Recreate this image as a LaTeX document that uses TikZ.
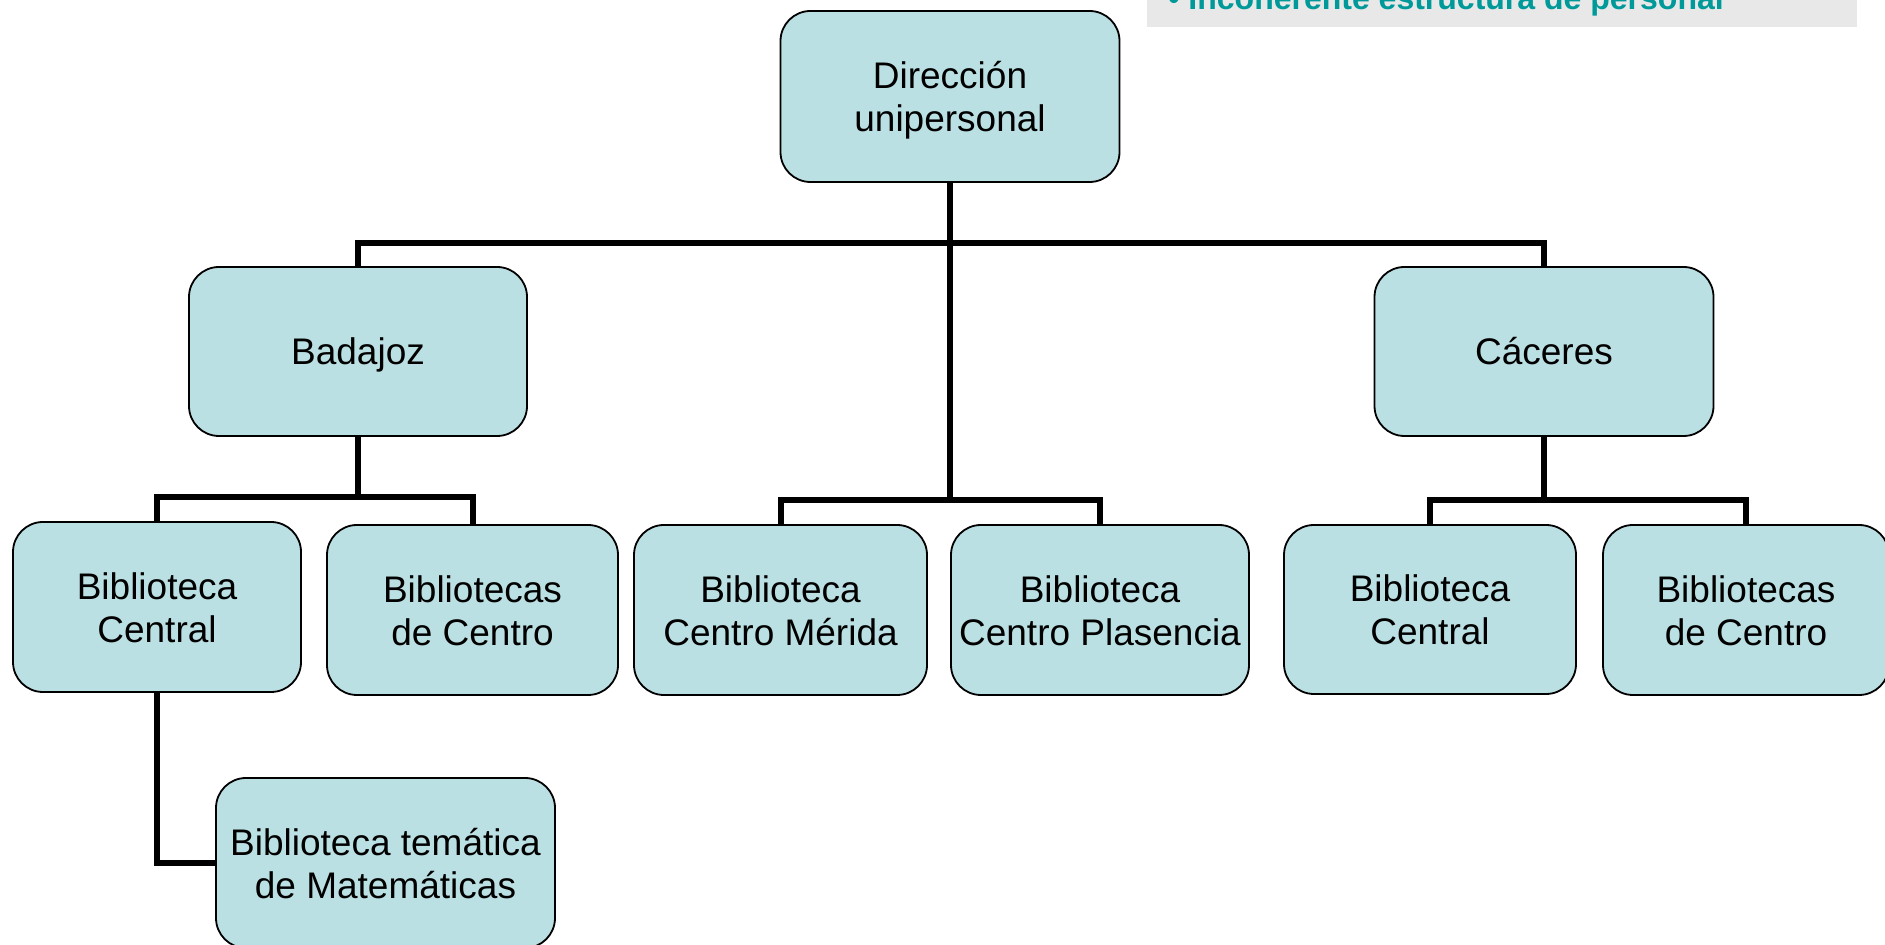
\documentclass[tikz,border=0pt]{standalone}
\usepackage{fontspec}
\setmainfont{Liberation Sans}
\definecolor{boxfill}{RGB}{187,224,227}
\definecolor{headgrey}{RGB}{232,232,232}
\definecolor{headteal}{RGB}{0,153,153}
\begin{document}
\begin{tikzpicture}[x=0.5pt,y=-0.5pt,
  orgbox/.style={draw=black, line width=0.9pt, fill=boxfill, rounded corners=15pt,
    align=center, inner sep=0pt, text height=35.5pt, text depth=0pt,
    font=\fontsize{18.5pt}{21.5pt}\selectfont},
  oneline/.style={text height=13.5pt},
  conn/.style={draw=black, line width=3pt, line join=miter}]
\useasboundingbox (0,0) rectangle (1885,945);
% header
\fill[headgrey] (1147,0) rectangle (1857,27);
\node[anchor=base west, inner sep=0pt, text=headteal, font=\fontsize{16pt}{18pt}\selectfont\bfseries] (head) at (1168,10) {• Incoherente estructura de personal};
% coordinates for buses
\coordinate (busA) at (950,243);
\coordinate (busB) at (950,500);
\coordinate (busC) at (358,497);
\coordinate (busD) at (1544,500);
% boxes
\path
 (950,96.5) node[orgbox, minimum width=169.5pt, minimum height=85.5pt] (dir) {Dirección\\unipersonal}
 (358,351.5) node[orgbox, oneline, minimum width=169pt, minimum height=84.5pt] (bad) {Badajoz}
 (1544,351.5) node[orgbox, oneline, minimum width=169.5pt, minimum height=84.5pt] (cac) {Cáceres}
 (157,607) node[orgbox, minimum width=144pt, minimum height=85pt] (bc1) {Biblioteca\\Central}
 (472.5,610) node[orgbox, minimum width=145.5pt, minimum height=85pt] (bcen1) {Bibliotecas\\de Centro}
 (780.5,610) node[orgbox, minimum width=146.5pt, minimum height=85pt] (mer) {Biblioteca\\Centro Mérida}
 (1100,610) node[orgbox, minimum width=149pt, minimum height=85pt] (pla) {Biblioteca\\Centro Plasencia}
 (1430,609.5) node[orgbox, minimum width=146pt, minimum height=84.5pt] (bc2) {Biblioteca\\Central}
 (1746,610) node[orgbox, minimum width=143pt, minimum height=85pt] (bcen2) {Bibliotecas\\de Centro}
 (385.5,863) node[orgbox, minimum width=169.5pt, minimum height=85pt] (tem) {Biblioteca temática\\de Matemáticas};
% connectors
\draw[conn] (dir.south) -- (busA);
\draw[conn] (bad.north) |- (busA) -| (cac.north);
\draw[conn] (busA) -- (busB);
\draw[conn] (mer.north) |- (busB) -| (pla.north);
\draw[conn] (bad.south) -- (busC);
\draw[conn] (bc1.north) |- (busC) -| (bcen1.north);
\draw[conn] (cac.south) -- (busD);
\draw[conn] (bc2.north) |- (busD) -| (bcen2.north);
\draw[conn] (bc1.south) |- (tem.west);
\end{tikzpicture}
\end{document}
